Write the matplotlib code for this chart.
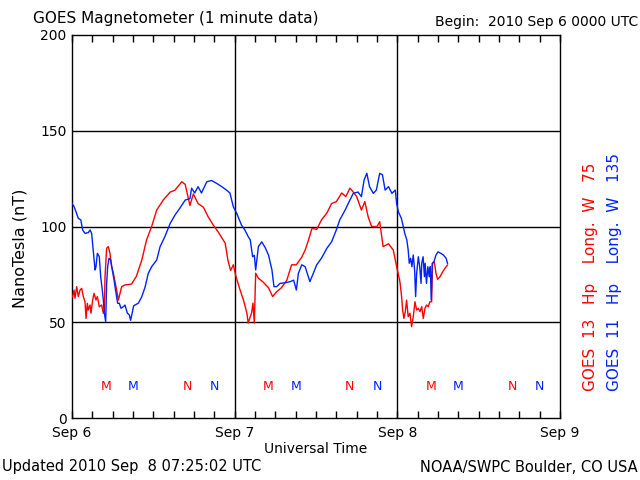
import matplotlib
matplotlib.use("Agg")
import matplotlib.pyplot as plt
import numpy as np

# ---- data (hours since 2010 Sep 6 00:00 UTC, nT) ----
g13_hours = [0.1, 0.3, 0.44, 0.69, 0.93, 1.18, 1.43, 1.67, 1.92, 2.07, 2.26, 2.4, 2.66, 2.8,
             3.05, 3.25, 3.54, 3.74, 4.03, 4.38, 4.62, 4.77, 4.87, 5.11, 5.36, 5.6, 5.85,
             6.1, 6.59, 6.84, 7.08, 7.33, 7.82, 8.56,
             8.8, 9.5, 10.3, 11.0, 11.75, 12.5, 13.5, 14.5, 15.2,
             16.2, 16.7, 17.4, 17.9, 18.6, 19.4, 20.1, 20.8, 21.6, 22.3, 22.6, 23.0, 23.4,
             23.8, 24.2, 24.8, 25.3, 25.8, 26.0, 26.5, 26.7, 26.9, 27.1, 27.5, 28.2, 29.0,
             29.6, 30.2, 30.9, 31.7, 32.4, 33.1, 33.9, 34.4, 34.9, 35.4, 36.1, 36.8, 37.6,
             38.3, 39.0, 39.8, 40.4, 41.0, 41.5, 42.0, 42.7, 43.2, 43.7, 44.2, 45.0, 45.4,
             45.9, 46.7, 47.4, 47.9,
             48.38, 48.63, 48.78, 48.97, 49.17, 49.37, 49.6, 49.86, 50.1, 50.35, 50.6,
             50.85, 51.1, 51.34, 51.6, 51.83, 52.08, 52.3, 52.57, 52.8, 53.06, 53.2,
             53.45, 53.7, 53.94, 54.3, 54.7, 55.03, 55.4]
g13_vals = [63.4, 66.8, 62.5, 68.6, 63.4, 66.8, 67.7, 63.4, 60.7, 52, 59.9, 56.4, 59, 54.7,
            61.6, 65.1, 61.6, 63.4, 58.1, 59, 54.7, 55.5, 73.8, 88.6, 89.5, 86, 79,
            75.6, 66.8, 61.6, 65.1, 68.6, 69.5, 69.8,
            70, 74, 82.5, 93, 100, 108.6, 114, 118, 119,
            123.4, 122, 111, 117, 112, 110, 105, 101, 97, 93, 91.3, 82.5, 77,
            80, 73.8, 66.8, 61.6, 54.8, 49.6, 55, 60, 49.6, 75.6, 73, 71, 68,
            63.4, 66, 68, 72, 80, 80, 84, 87.7, 93, 99, 98.5, 103.4, 107,
            112, 113, 117.5, 115.6, 120, 118, 115.6, 108.6, 113, 105, 100, 100, 102.5,
            89.5, 91, 87.7, 79,
            71.2, 63.4, 56.4, 52, 55.5, 61.6, 52.9, 54.7, 47.7, 52.9, 60.7,
            56.4, 57.3, 55.5, 58.1, 52, 57.3, 59, 58.1, 60.7, 60.7, 80.8,
            81.6, 75.6, 72.4, 73.8, 76.4, 78.2, 79.9]

g11_hours = [0.0, 0.3, 0.59, 0.93, 1.3, 1.57, 1.92, 2.4, 2.66, 2.9, 3.15, 3.4, 3.54, 3.74,
             4.03, 4.23, 4.47, 4.62, 4.77, 4.97, 5.11, 5.26, 5.46, 5.7, 5.95, 6.2, 6.5,
             6.74, 6.98, 7.23, 7.57, 7.82, 8.16, 8.46, 8.65,
             9.1, 9.8, 10.3, 10.8, 11.25, 11.75,
             12.5, 13.0, 13.7, 14.5, 15.2, 15.9, 16.7, 17.4, 17.65, 18.1, 18.6, 19.1, 19.9,
             20.6, 21.35, 22.1, 22.8, 23.3, 23.8, 24.3, 25.0, 25.5, 26.0, 26.3, 26.65, 26.9,
             27.1, 27.5, 28.0, 28.5, 29.0, 29.5, 29.8, 30.2, 30.7, 31.4, 32.2, 32.7, 33.1,
             33.4, 33.9, 34.4, 35.1, 35.6, 36.1, 36.8, 37.6, 38.3, 39.0, 39.5, 40.3, 41.0,
             41.5, 42.2, 42.7, 43.1, 43.5, 43.9, 44.45, 44.9, 45.4, 45.8, 46.2, 46.7, 47.2,
             47.7, 47.9, 48.15, 48.6,
             49.1, 49.4, 49.6, 49.76, 49.96, 50.15, 50.35, 50.55, 50.7, 50.85, 51.1, 51.3,
             51.5, 51.6, 51.8, 52.0, 52.1, 52.3, 52.5, 52.7, 52.86, 53.0, 53.15, 53.4,
             53.7, 54.0, 54.4, 54.8, 55.2, 55.4]
g11_vals = [112.1, 110.4, 107.7, 104.3, 103.4, 98.2, 96.4, 96.8, 98.2, 96.4, 86.8, 77.3, 79, 86,
            84.2, 73.8, 66.8, 61.6, 54.7, 50.3, 70.3, 79, 83.4, 82.5, 77.3, 72.1, 65.1,
            59.9, 59.9, 57.3, 58.1, 59, 54.8, 53.8, 51,
            58.6, 60, 63.4, 68.6, 75.5, 79,
            82.5, 89.5, 94.7, 101.7, 106, 109.5, 113.8, 114.6, 120, 117.5, 120.8, 117.5, 123.4,
            124, 122.5, 120.8, 119, 117.5, 110.3, 106.9, 100.8, 98.2, 94.7, 93, 84.2, 85,
            77.3, 89.5, 92, 89, 85, 77.3, 68.6, 68.6, 70.3, 70.6, 71.2, 72, 66.8,
            75.5, 80, 79, 71.2, 75.5, 80, 83.4, 88.6, 92, 98.2, 103.4, 108.6, 113.8,
            117.3, 118, 115.6, 124.3, 127.8, 120.8, 117.3, 119, 127.8, 127, 119, 120.8, 117.3,
            119, 112, 107.7, 104.2,
            96.4, 93, 87.7, 80.8, 83.4, 79, 85.1, 77.3, 63.4, 75.6, 84.2, 79,
            70.3, 80.8, 84.2, 73.8, 80.8, 70.3, 79, 73.8, 79, 61.6, 80.8, 81.6,
            85.1, 86.8, 86, 85.1, 83.4, 80.8]

marker_hours = [5, 9, 17, 21, 29, 33, 41, 45, 53, 57, 65, 69]
marker_labels = ["M", "M", "N", "N", "M", "M", "N", "N", "M", "M", "N", "N"]
marker_sat = [13, 11, 13, 11, 13, 11, 13, 11, 13, 11, 13, 11]
marker_level = 16.7

day_labels = ["Sep 6", "Sep 7", "Sep 8", "Sep 9"]
y_ticks = [0, 50, 100, 150, 200]

RED = "#ff0000"
BLUE = "#0022ff"

plt.rcParams['font.family'] = ['DejaVu Sans']
fig = plt.figure(figsize=(6.4, 4.8), dpi=100)
ax = fig.add_axes([72/640, 1-418/480, (560-72)/640, (418-35)/480])

ax.plot(g13_hours, g13_vals, color=RED, lw=1.0, zorder=3)
ax.plot(g11_hours, g11_vals, color=BLUE, lw=1.0, zorder=3)

for h, lab, s in zip(marker_hours, marker_labels, marker_sat):
    ax.text(h, marker_level, lab, color=RED if s == 13 else BLUE,
            ha='center', va='center', fontsize=9)

ax.set_xlim(0, 72)
ax.set_ylim(0, 200)
for d in (24, 48):
    ax.axvline(d, color='black', lw=1.0, zorder=2)
for v in (50, 100, 150):
    ax.axhline(v, color='black', lw=1.0, zorder=2)

ax.set_xticks([0, 24, 48, 72])
ax.set_xticklabels(day_labels, fontsize=10)
ax.set_xticks(np.arange(0, 73, 3), minor=True)
ax.set_yticks(y_ticks)
ax.set_yticklabels([str(v) for v in y_ticks], fontsize=10)
ax.tick_params(axis='x', which='both', direction='in', top=True, bottom=True,
               length=5, width=1, pad=6)
ax.tick_params(axis='y', which='both', length=0, pad=4)
for sp in ax.spines.values():
    sp.set_linewidth(1.0)
    sp.set_color('black')

fig.text(33/640, 1-18/480, "GOES Magnetometer (1 minute data)", fontsize=11,
         ha='left', va='center')
fig.text(638/640, 1-22/480, "Begin:  2010 Sep 6 0000 UTC", fontsize=10,
         ha='right', va='center')
fig.text(316/640, 1-449/480, "Universal Time", fontsize=10, ha='center', va='center')
fig.text(2/640, 1-467/480, "Updated 2010 Sep  8 07:25:02 UTC", fontsize=10.5,
         ha='left', va='center')
fig.text(638/640, 1-467/480, "NOAA/SWPC Boulder, CO USA", fontsize=10.5,
         ha='right', va='center')
fig.text(20/640, 1-248/480, "NanoTesla (nT)", fontsize=11.5, rotation=90,
         ha='center', va='center')
fig.text(590/640, 1-391/480, "GOES  13   Hp    Long.  W   75", fontsize=11, rotation=90,
         ha='center', va='bottom', color=RED)
fig.text(615/640, 1-391/480, "GOES  11   Hp    Long.  W   135", fontsize=11, rotation=90,
         ha='center', va='bottom', color=BLUE)

fig.savefig("out.png", dpi=100)
